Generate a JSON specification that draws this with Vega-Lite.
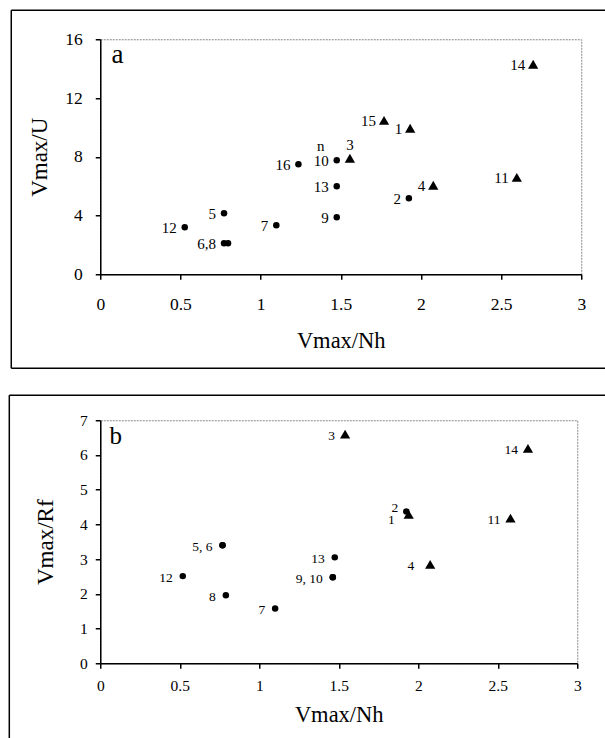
{
  "$schema": "https://vega.github.io/schema/vega-lite/v6.json",
  "padding": {"left": 7.25, "top": 8.25, "right": 0, "bottom": 0},
  "background": "white",
  "spacing": 23,
  "columns": 1,
  "config": {
    "view": {"stroke": "#8a8a8a", "strokeDash": [2, 1], "strokeWidth": 1},
    "font": "Liberation Serif",
    "axis": {
      "grid": false,
      "domainColor": "black",
      "tickColor": "black",
      "domainWidth": 1.5,
      "tickWidth": 1.5,
      "tickSize": 5,
      "labelColor": "black",
      "titleColor": "black",
      "labelFont": "Liberation Serif",
      "titleFont": "Liberation Serif",
      "titleFontWeight": "normal",
      "labelFlush": false,
      "labelOverlap": false
    },
    "text": {"font": "Liberation Serif", "color": "black"}
  },
  "datasets": {
    "a": [
      {"id": 1, "label": "1", "note": "", "series": "II", "x": 1.933, "y": 9.94},
      {"id": 2, "label": "2", "note": "", "series": "I", "x": 1.925, "y": 5.17},
      {"id": 3, "label": "3", "note": "", "series": "II", "x": 1.557, "y": 7.9},
      {"id": 4, "label": "4", "note": "", "series": "II", "x": 2.077, "y": 6.06},
      {"id": 5, "label": "5", "note": "", "series": "I", "x": 0.772, "y": 4.15},
      {"id": 6, "label": "6,8", "note": "", "series": "I", "x": 0.772, "y": 2.11},
      {"id": 7, "label": "7", "note": "", "series": "I", "x": 1.098, "y": 3.34},
      {"id": 8, "label": "", "note": "", "series": "I", "x": 0.797, "y": 2.11},
      {"id": 9, "label": "9", "note": "", "series": "I", "x": 1.475, "y": 3.88},
      {"id": 10, "label": "10", "note": "n", "series": "I", "x": 1.475, "y": 7.76},
      {"id": 11, "label": "11", "note": "", "series": "II", "x": 2.598, "y": 6.6},
      {"id": 12, "label": "12", "note": "", "series": "I", "x": 0.527, "y": 3.2},
      {"id": 13, "label": "13", "note": "", "series": "I", "x": 1.475, "y": 5.99},
      {"id": 14, "label": "14", "note": "", "series": "II", "x": 2.7, "y": 14.3},
      {"id": 15, "label": "15", "note": "", "series": "II", "x": 1.77, "y": 10.48},
      {"id": 16, "label": "16", "note": "", "series": "I", "x": 1.236, "y": 7.49}
    ],
    "b": [
      {"id": 2, "label": "2", "series": "I", "x": 1.925, "y": 4.37},
      {"id": 1, "label": "1", "series": "II", "x": 1.94, "y": 4.29},
      {"id": 3, "label": "3", "series": "II", "x": 1.54, "y": 6.6},
      {"id": 4, "label": "4", "series": "II", "x": 2.075, "y": 2.85},
      {"id": 5, "label": "5, 6", "series": "I", "x": 0.769, "y": 3.4},
      {"id": 6, "label": "", "series": "I", "x": 0.769, "y": 3.4},
      {"id": 7, "label": "7", "series": "I", "x": 1.1, "y": 1.58},
      {"id": 8, "label": "8", "series": "I", "x": 0.79, "y": 1.96},
      {"id": 9, "label": "9, 10", "series": "I", "x": 1.4625, "y": 2.48},
      {"id": 10, "label": "", "series": "I", "x": 1.4625, "y": 2.48},
      {"id": 11, "label": "11", "series": "II", "x": 2.58, "y": 4.18},
      {"id": 12, "label": "12", "series": "I", "x": 0.519, "y": 2.51},
      {"id": 13, "label": "13", "series": "I", "x": 1.475, "y": 3.05},
      {"id": 14, "label": "14", "series": "II", "x": 2.69, "y": 6.19}
    ]
  },
  "concat": [
    {
      "width": 481,
      "height": 235,
      "data": {"name": "a"},
      "layer": [
        {
          "mark": {"type": "point", "filled": true, "opacity": 1, "color": "black"},
          "encoding": {
            "x": {"field": "x", "type": "quantitative", "scale": {"domain": [0, 3], "nice": false, "zero": false}, "axis": {"values": [0, 0.5, 1, 1.5, 2, 2.5, 3], "format": "~g", "labelFontSize": 17.5, "labelPadding": 16, "title": "Vmax/Nh", "titleFontSize": 22.5, "titlePadding": 17}},
            "y": {"field": "y", "type": "quantitative", "scale": {"domain": [0, 16], "nice": false, "zero": false}, "axis": {"values": [0, 4, 8, 12, 16], "labelFontSize": 17.5, "labelPadding": 13, "title": "Vmax/U", "titleFontSize": 23, "titlePadding": 13}},
            "shape": {"field": "series", "type": "nominal", "scale": {"domain": ["I", "II"], "range": ["circle", "triangle-up"]}, "legend": null},
            "size": {"field": "series", "type": "nominal", "scale": {"domain": ["I", "II"], "range": [42, 105]}, "legend": null}
          }
        },
        {
          "transform": [{"filter": "datum.label != '3'"}],
          "mark": {"type": "text", "align": "right", "baseline": "middle", "dx": -8, "dy": 1, "fontSize": 15},
          "encoding": {
            "x": {"field": "x", "type": "quantitative", "scale": {"domain": [0, 3], "nice": false, "zero": false}, "axis": {"values": [0, 0.5, 1, 1.5, 2, 2.5, 3], "format": "~g", "labelFontSize": 17.5, "labelPadding": 16, "title": "Vmax/Nh", "titleFontSize": 22.5, "titlePadding": 17}},
            "y": {"field": "y", "type": "quantitative", "scale": {"domain": [0, 16], "nice": false, "zero": false}, "axis": {"values": [0, 4, 8, 12, 16], "labelFontSize": 17.5, "labelPadding": 13, "title": "Vmax/U", "titleFontSize": 23, "titlePadding": 13}},
            "text": {"field": "label"}
          }
        },
        {
          "transform": [{"filter": "datum.label == '3'"}],
          "mark": {"type": "text", "align": "center", "baseline": "middle", "dx": 0, "dy": -13, "fontSize": 15},
          "encoding": {
            "x": {"field": "x", "type": "quantitative", "scale": {"domain": [0, 3], "nice": false, "zero": false}, "axis": {"values": [0, 0.5, 1, 1.5, 2, 2.5, 3], "format": "~g", "labelFontSize": 17.5, "labelPadding": 16, "title": "Vmax/Nh", "titleFontSize": 22.5, "titlePadding": 17}},
            "y": {"field": "y", "type": "quantitative", "scale": {"domain": [0, 16], "nice": false, "zero": false}, "axis": {"values": [0, 4, 8, 12, 16], "labelFontSize": 17.5, "labelPadding": 13, "title": "Vmax/U", "titleFontSize": 23, "titlePadding": 13}},
            "text": {"field": "label"}
          }
        },
        {
          "transform": [{"filter": "datum.note != ''"}],
          "mark": {"type": "text", "align": "center", "baseline": "middle", "dx": -16, "dy": -14, "fontSize": 15},
          "encoding": {
            "x": {"field": "x", "type": "quantitative", "scale": {"domain": [0, 3], "nice": false, "zero": false}, "axis": {"values": [0, 0.5, 1, 1.5, 2, 2.5, 3], "format": "~g", "labelFontSize": 17.5, "labelPadding": 16, "title": "Vmax/Nh", "titleFontSize": 22.5, "titlePadding": 17}},
            "y": {"field": "y", "type": "quantitative", "scale": {"domain": [0, 16], "nice": false, "zero": false}, "axis": {"values": [0, 4, 8, 12, 16], "labelFontSize": 17.5, "labelPadding": 13, "title": "Vmax/U", "titleFontSize": 23, "titlePadding": 13}},
            "text": {"field": "note"}
          }
        },
        {
          "data": {"values": [{"panel": "a"}]},
          "mark": {"type": "text", "align": "left", "baseline": "alphabetic", "fontSize": 27},
          "encoding": {
            "text": {"field": "panel"},
            "x": {"datum": 0.07, "scale": {"domain": [0, 3], "nice": false, "zero": false}, "axis": {"values": [0, 0.5, 1, 1.5, 2, 2.5, 3], "format": "~g", "labelFontSize": 17.5, "labelPadding": 16, "title": "Vmax/Nh", "titleFontSize": 22.5, "titlePadding": 17}},
            "y": {"datum": 14.37, "scale": {"domain": [0, 16], "nice": false, "zero": false}, "axis": {"values": [0, 4, 8, 12, 16], "labelFontSize": 17.5, "labelPadding": 13, "title": "Vmax/U", "titleFontSize": 23, "titlePadding": 13}}
          }
        },
        {
          "data": {"values": [{"edge": "top"}]},
          "mark": {"type": "rule", "color": "black", "strokeWidth": 1.5},
          "encoding": {
            "x": {"datum": -0.555, "scale": {"domain": [0, 3], "nice": false, "zero": false}, "axis": {"values": [0, 0.5, 1, 1.5, 2, 2.5, 3], "format": "~g", "labelFontSize": 17.5, "labelPadding": 16, "title": "Vmax/Nh", "titleFontSize": 22.5, "titlePadding": 17}},
            "x2": {"datum": 3.15},
            "y": {"datum": 17.974, "scale": {"domain": [0, 16], "nice": false, "zero": false}, "axis": {"values": [0, 4, 8, 12, 16], "labelFontSize": 17.5, "labelPadding": 13, "title": "Vmax/U", "titleFontSize": 23, "titlePadding": 13}}
          }
        },
        {
          "data": {"values": [{"edge": "bottom"}]},
          "mark": {"type": "rule", "color": "black", "strokeWidth": 1.5},
          "encoding": {
            "x": {"datum": -0.555, "scale": {"domain": [0, 3], "nice": false, "zero": false}, "axis": {"values": [0, 0.5, 1, 1.5, 2, 2.5, 3], "format": "~g", "labelFontSize": 17.5, "labelPadding": 16, "title": "Vmax/Nh", "titleFontSize": 22.5, "titlePadding": 17}},
            "x2": {"datum": 3.15},
            "y": {"datum": -6.4, "scale": {"domain": [0, 16], "nice": false, "zero": false}, "axis": {"values": [0, 4, 8, 12, 16], "labelFontSize": 17.5, "labelPadding": 13, "title": "Vmax/U", "titleFontSize": 23, "titlePadding": 13}}
          }
        },
        {
          "data": {"values": [{"edge": "left"}]},
          "mark": {"type": "rule", "color": "black", "strokeWidth": 1.5},
          "encoding": {
            "x": {"datum": -0.555, "scale": {"domain": [0, 3], "nice": false, "zero": false}, "axis": {"values": [0, 0.5, 1, 1.5, 2, 2.5, 3], "format": "~g", "labelFontSize": 17.5, "labelPadding": 16, "title": "Vmax/Nh", "titleFontSize": 22.5, "titlePadding": 17}},
            "y": {"datum": -6.4, "scale": {"domain": [0, 16], "nice": false, "zero": false}, "axis": {"values": [0, 4, 8, 12, 16], "labelFontSize": 17.5, "labelPadding": 13, "title": "Vmax/U", "titleFontSize": 23, "titlePadding": 13}},
            "y2": {"datum": 17.974}
          }
        }
      ]
    },
    {
      "width": 477,
      "height": 243,
      "data": {"name": "b"},
      "layer": [
        {
          "mark": {"type": "point", "filled": true, "opacity": 1, "color": "black"},
          "encoding": {
            "x": {"field": "x", "type": "quantitative", "scale": {"domain": [0, 3], "nice": false, "zero": false}, "axis": {"values": [0, 0.5, 1, 1.5, 2, 2.5, 3], "format": "~g", "labelFontSize": 15.5, "labelPadding": 10, "title": "Vmax/Nh", "titleFontSize": 22.5, "titlePadding": 10}},
            "y": {"field": "y", "type": "quantitative", "scale": {"domain": [0, 7], "nice": false, "zero": false}, "axis": {"values": [0, 1, 2, 3, 4, 5, 6, 7], "labelFontSize": 15.5, "labelPadding": 8, "title": "Vmax/Rf", "titleFontSize": 23, "titlePadding": 22}},
            "shape": {"field": "series", "type": "nominal", "scale": {"domain": ["I", "II"], "range": ["circle", "triangle-up"]}, "legend": null},
            "size": {"field": "series", "type": "nominal", "scale": {"domain": ["I", "II"], "range": [38, 78]}, "legend": null}
          }
        },
        {
          "transform": [{"filter": "datum.label != '1' && datum.label != '2' && datum.label != '4'"}],
          "mark": {"type": "text", "align": "right", "baseline": "middle", "dx": -10, "dy": 2, "fontSize": 13.5},
          "encoding": {
            "x": {"field": "x", "type": "quantitative", "scale": {"domain": [0, 3], "nice": false, "zero": false}, "axis": {"values": [0, 0.5, 1, 1.5, 2, 2.5, 3], "format": "~g", "labelFontSize": 15.5, "labelPadding": 10, "title": "Vmax/Nh", "titleFontSize": 22.5, "titlePadding": 10}},
            "y": {"field": "y", "type": "quantitative", "scale": {"domain": [0, 7], "nice": false, "zero": false}, "axis": {"values": [0, 1, 2, 3, 4, 5, 6, 7], "labelFontSize": 15.5, "labelPadding": 8, "title": "Vmax/Rf", "titleFontSize": 23, "titlePadding": 22}},
            "text": {"field": "label"}
          }
        },
        {
          "transform": [{"filter": "datum.label == '4'"}],
          "mark": {"type": "text", "align": "right", "baseline": "middle", "dx": -16, "dy": 2, "fontSize": 13.5},
          "encoding": {
            "x": {"field": "x", "type": "quantitative", "scale": {"domain": [0, 3], "nice": false, "zero": false}, "axis": {"values": [0, 0.5, 1, 1.5, 2, 2.5, 3], "format": "~g", "labelFontSize": 15.5, "labelPadding": 10, "title": "Vmax/Nh", "titleFontSize": 22.5, "titlePadding": 10}},
            "y": {"field": "y", "type": "quantitative", "scale": {"domain": [0, 7], "nice": false, "zero": false}, "axis": {"values": [0, 1, 2, 3, 4, 5, 6, 7], "labelFontSize": 15.5, "labelPadding": 8, "title": "Vmax/Rf", "titleFontSize": 23, "titlePadding": 22}},
            "text": {"field": "label"}
          }
        },
        {
          "transform": [{"filter": "datum.label == '2'"}],
          "mark": {"type": "text", "align": "right", "baseline": "middle", "dx": -8, "dy": -4, "fontSize": 13.5},
          "encoding": {
            "x": {"field": "x", "type": "quantitative", "scale": {"domain": [0, 3], "nice": false, "zero": false}, "axis": {"values": [0, 0.5, 1, 1.5, 2, 2.5, 3], "format": "~g", "labelFontSize": 15.5, "labelPadding": 10, "title": "Vmax/Nh", "titleFontSize": 22.5, "titlePadding": 10}},
            "y": {"field": "y", "type": "quantitative", "scale": {"domain": [0, 7], "nice": false, "zero": false}, "axis": {"values": [0, 1, 2, 3, 4, 5, 6, 7], "labelFontSize": 15.5, "labelPadding": 8, "title": "Vmax/Rf", "titleFontSize": 23, "titlePadding": 22}},
            "text": {"field": "label"}
          }
        },
        {
          "transform": [{"filter": "datum.label == '1'"}],
          "mark": {"type": "text", "align": "right", "baseline": "middle", "dx": -14, "dy": 6, "fontSize": 13.5},
          "encoding": {
            "x": {"field": "x", "type": "quantitative", "scale": {"domain": [0, 3], "nice": false, "zero": false}, "axis": {"values": [0, 0.5, 1, 1.5, 2, 2.5, 3], "format": "~g", "labelFontSize": 15.5, "labelPadding": 10, "title": "Vmax/Nh", "titleFontSize": 22.5, "titlePadding": 10}},
            "y": {"field": "y", "type": "quantitative", "scale": {"domain": [0, 7], "nice": false, "zero": false}, "axis": {"values": [0, 1, 2, 3, 4, 5, 6, 7], "labelFontSize": 15.5, "labelPadding": 8, "title": "Vmax/Rf", "titleFontSize": 23, "titlePadding": 22}},
            "text": {"field": "label"}
          }
        },
        {
          "data": {"values": [{"panel": "b"}]},
          "mark": {"type": "text", "align": "left", "baseline": "alphabetic", "fontSize": 25},
          "encoding": {
            "text": {"field": "panel"},
            "x": {"datum": 0.058, "scale": {"domain": [0, 3], "nice": false, "zero": false}, "axis": {"values": [0, 0.5, 1, 1.5, 2, 2.5, 3], "format": "~g", "labelFontSize": 15.5, "labelPadding": 10, "title": "Vmax/Nh", "titleFontSize": 22.5, "titlePadding": 10}},
            "y": {"datum": 6.31, "scale": {"domain": [0, 7], "nice": false, "zero": false}, "axis": {"values": [0, 1, 2, 3, 4, 5, 6, 7], "labelFontSize": 15.5, "labelPadding": 8, "title": "Vmax/Rf", "titleFontSize": 23, "titlePadding": 22}}
          }
        },
        {
          "data": {"values": [{"edge": "top"}]},
          "mark": {"type": "rule", "color": "black", "strokeWidth": 1.5},
          "encoding": {
            "x": {"datum": -0.572, "scale": {"domain": [0, 3], "nice": false, "zero": false}, "axis": {"values": [0, 0.5, 1, 1.5, 2, 2.5, 3], "format": "~g", "labelFontSize": 15.5, "labelPadding": 10, "title": "Vmax/Nh", "titleFontSize": 22.5, "titlePadding": 10}},
            "x2": {"datum": 3.176},
            "y": {"datum": 7.72, "scale": {"domain": [0, 7], "nice": false, "zero": false}, "axis": {"values": [0, 1, 2, 3, 4, 5, 6, 7], "labelFontSize": 15.5, "labelPadding": 8, "title": "Vmax/Rf", "titleFontSize": 23, "titlePadding": 22}}
          }
        },
        {
          "data": {"values": [{"edge": "left"}]},
          "mark": {"type": "rule", "color": "black", "strokeWidth": 1.5},
          "encoding": {
            "x": {"datum": -0.572, "scale": {"domain": [0, 3], "nice": false, "zero": false}, "axis": {"values": [0, 0.5, 1, 1.5, 2, 2.5, 3], "format": "~g", "labelFontSize": 15.5, "labelPadding": 10, "title": "Vmax/Nh", "titleFontSize": 22.5, "titlePadding": 10}},
            "y": {"datum": -2.19, "scale": {"domain": [0, 7], "nice": false, "zero": false}, "axis": {"values": [0, 1, 2, 3, 4, 5, 6, 7], "labelFontSize": 15.5, "labelPadding": 8, "title": "Vmax/Rf", "titleFontSize": 23, "titlePadding": 22}},
            "y2": {"datum": 7.72}
          }
        }
      ]
    }
  ]
}
